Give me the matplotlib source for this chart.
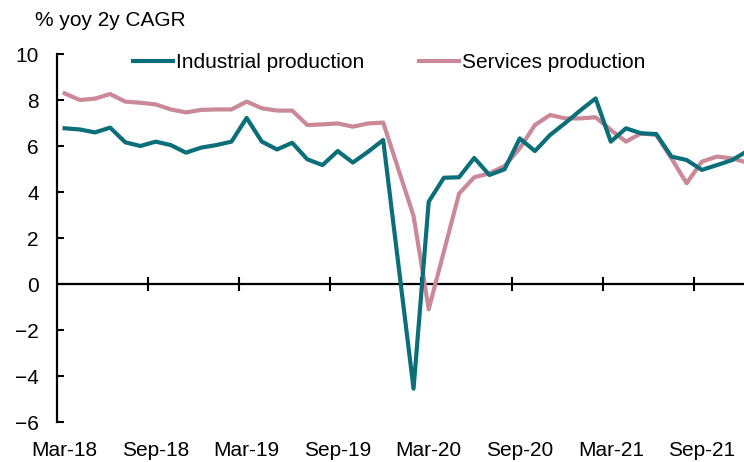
import numpy as np
import pandas as pd
import matplotlib
matplotlib.use("Agg")
import matplotlib.pyplot as plt

# ── Data (monthly, Mar-18 .. Dec-21; None = no print for that month) ──
MONTHS = pd.date_range("2018-03-01", periods=46, freq="MS")
INDUSTRIAL = [
    6.77, 6.72, 6.59, 6.80, 6.16, 6.00, 6.19, 6.04, 5.71, 5.93,
    6.04, 6.19, 7.22, 6.19, 5.85, 6.14, 5.42, 5.17, 5.78, 5.28,
    5.75, 6.26, None, -4.55, 3.58, 4.62, 4.64, 5.48, 4.74, 4.99,
    6.33, 5.78, 6.48, 7.00, 7.55, 8.07, 6.19, 6.77, 6.55, 6.52,
    5.54, 5.39, 4.96, 5.17, 5.39, 5.78,
]
SERVICES = [
    8.29, 8.00, 8.06, 8.26, 7.93, 7.88, 7.81, 7.59, 7.46, 7.57,
    7.59, 7.59, 7.93, 7.64, 7.54, 7.54, 6.91, 6.94, 6.98, 6.84,
    6.98, 7.02, None, 2.96, -1.10, None, 3.93, 4.64, 4.81, 5.13,
    5.90, 6.91, 7.35, 7.20, 7.20, 7.25, 6.70, 6.19, 6.55, 6.48,
    5.46, 4.38, 5.32, 5.54, 5.46, 5.28,
]
LABEL_EVERY = 6
Y_TICKS = [-6, -4, -2, 0, 2, 4, 6, 8, 10]

TEAL = "#0b6f79"
PINK = "#ca8898"

plt.rcParams["font.family"] = ["Liberation Sans", "DejaVu Sans"]

fig = plt.figure(figsize=(7.44, 4.62), dpi=100)
ax = fig.add_axes([57 / 744, 40 / 462, 1 - 57 / 744, 368 / 462])

df = pd.DataFrame({"ind": INDUSTRIAL, "srv": SERVICES}, dtype=float)
x = np.arange(len(MONTHS))

# months with no print are skipped, so the line runs straight across them
ind = df["ind"].dropna()
srv = df["srv"].dropna()
l1, = ax.plot(ind.index, ind.values, color=TEAL, lw=3,
              solid_joinstyle="round", label="Industrial production", zorder=3)
l2, = ax.plot(srv.index, srv.values, color=PINK, lw=3,
              solid_joinstyle="round", label="Services production", zorder=2)

ax.set_xlim(-0.5, 44.78)
ax.set_ylim(-6, 10)

# y axis: ticks pointing inward
ax.set_yticks(Y_TICKS)
ax.tick_params(axis="y", direction="in", length=5, width=1.5,
               pad=13, labelsize=15)
ax.spines["left"].set_linewidth(1.6)
for s in ("top", "right", "bottom"):
    ax.spines[s].set_visible(False)

# x labels at the bottom, one per six months
lab_pos = x[::LABEL_EVERY]
ax.set_xticks(lab_pos)
ax.set_xticklabels([m.strftime("%b-%y") for m in MONTHS[::LABEL_EVERY]])
ax.tick_params(axis="x", length=0, pad=14, labelsize=15)

# zero line with cross ticks between categories
ax.axhline(0, color="black", lw=1.6, zorder=1)
sec = ax.secondary_xaxis(6 / 16)
sec.set_xticks(lab_pos[1:] - 0.5)
sec.set_xticklabels([])
sec.spines["bottom"].set_visible(False)
sec.tick_params(direction="inout", length=10, width=1.5)

fig.text(35 / 744, 1 - 20 / 462, "% yoy 2y CAGR", fontsize=15,
         va="center", ha="left")

fig.legend(handles=[l1, l2], loc="center left", ncol=2, frameon=False,
           bbox_to_anchor=(133 / 744, 1 - 63 / 462), fontsize=15,
           handlelength=1.9, handletextpad=0.15, columnspacing=2.65,
           borderpad=0, borderaxespad=0)

fig.savefig("out.png", dpi=100)
